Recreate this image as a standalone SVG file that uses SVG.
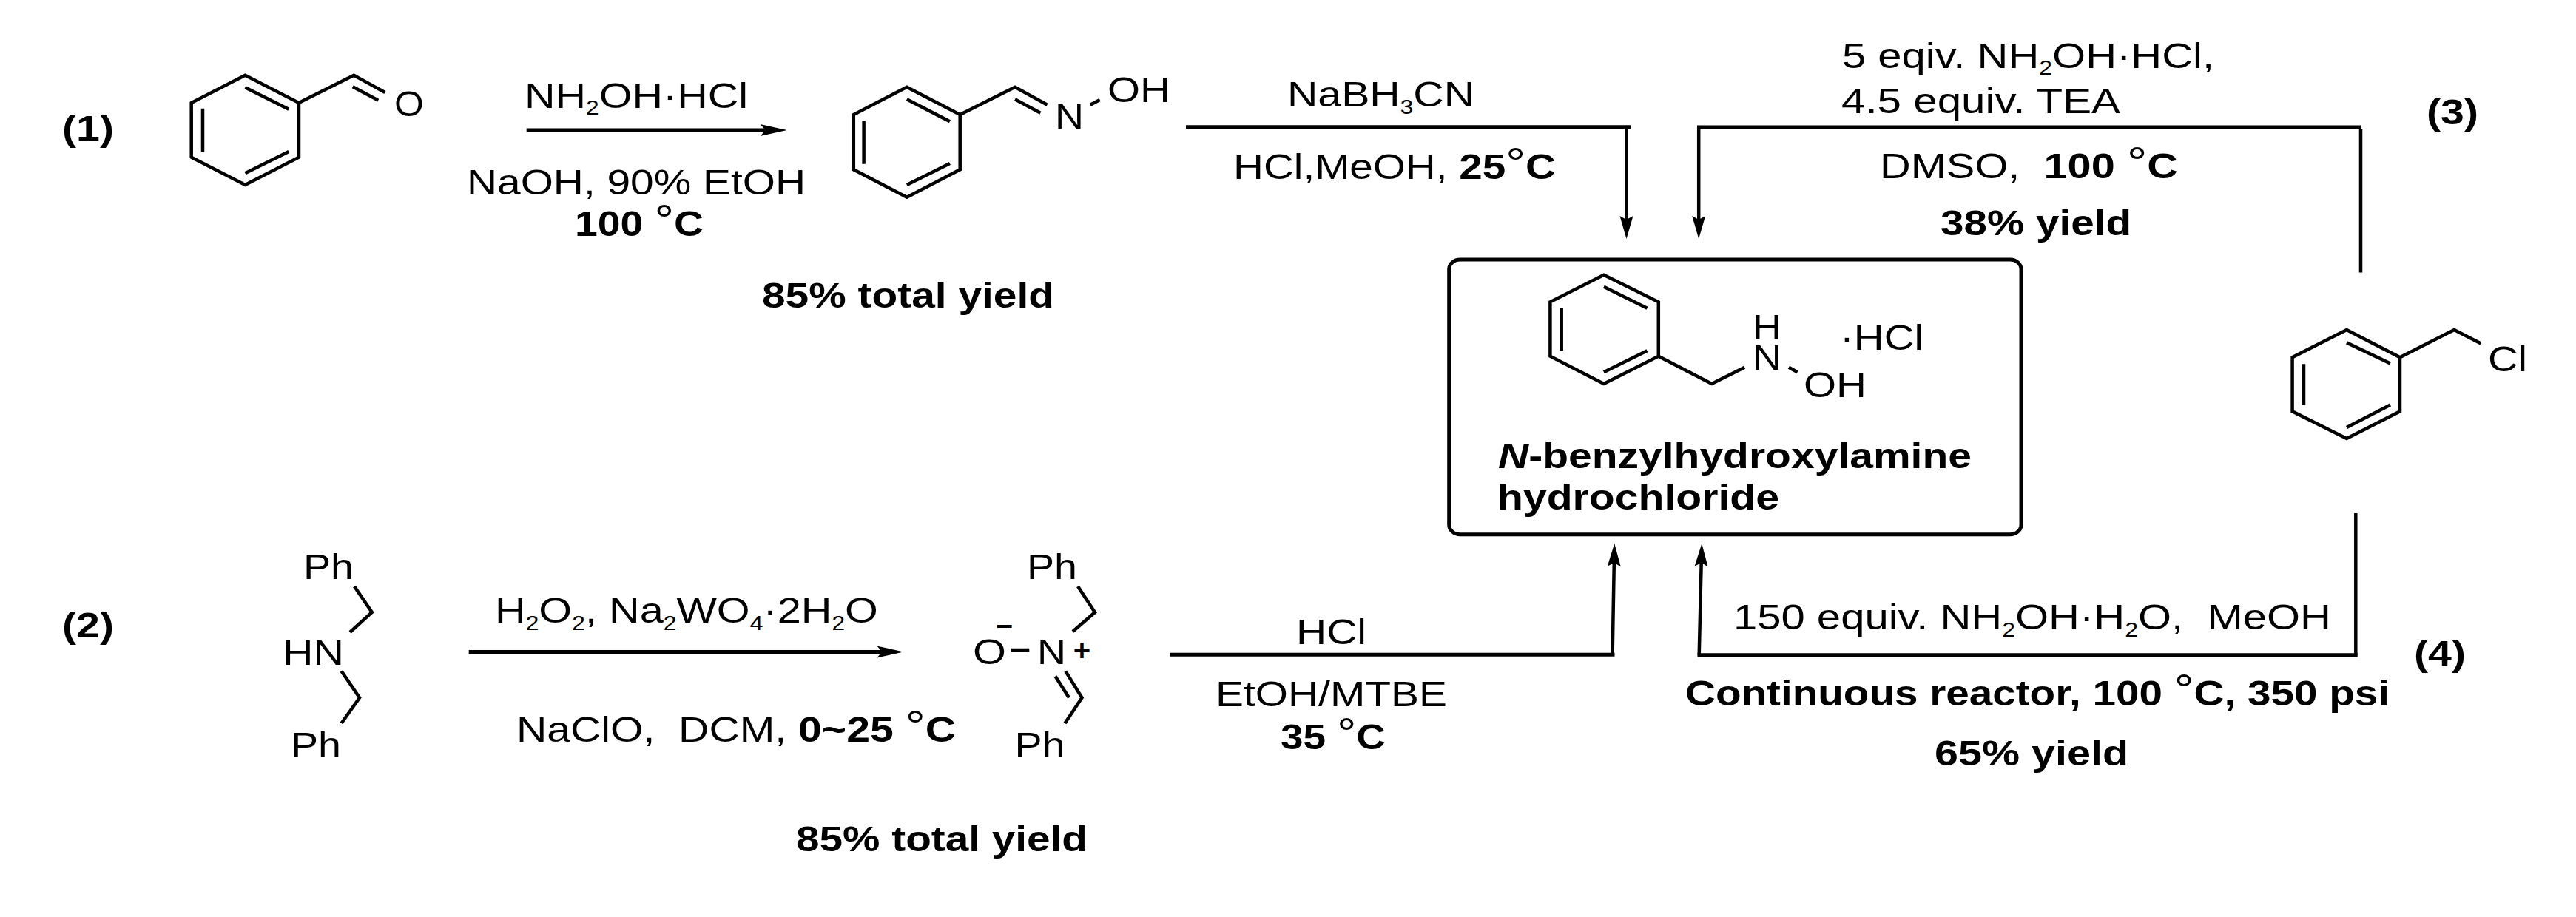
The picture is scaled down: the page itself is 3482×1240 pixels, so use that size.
<svg xmlns="http://www.w3.org/2000/svg" width="3482" height="1240" viewBox="0 0 3482 1240">
<style>
text{font-family:"Liberation Sans",Arial,sans-serif;font-size:49px;fill:#000;white-space:pre}
.b{font-weight:700}
.d{font-weight:400;font-size:58px}
.s{font-size:27px}
.i{font-style:italic}
.bond{fill:none;stroke:#000;stroke-width:4.5;stroke-linejoin:miter}
.thick{fill:none;stroke:#000;stroke-width:5}
.thin{fill:none;stroke:#000;stroke-width:4.5}
</style>
<defs>
<marker id="hA" markerUnits="userSpaceOnUse" markerWidth="40" markerHeight="20" refX="7" refY="10" orient="auto" overflow="visible"><path d="M0 2L36 10L0 18L7 10Z" fill="#000"/></marker>
<marker id="vA" markerUnits="userSpaceOnUse" markerWidth="34" markerHeight="20" refX="5" refY="10" orient="auto" overflow="visible"><path d="M0 1L31 10L0 19L5 10Z" fill="#000"/></marker>
</defs>
<rect width="3482" height="1240" fill="#fff"/>

<g id="connectors">
<line class="thick" x1="711.7" y1="176" x2="1034.7" y2="176" marker-end="url(#hA)"/>
<line class="thick" x1="633.7" y1="881.5" x2="1192.4" y2="881.5" marker-end="url(#hA)"/>
<line class="thick" x1="1603" y1="171.7" x2="2204" y2="171.7"/>
<line class="thin" x1="2198.5" y1="171.7" x2="2198.5" y2="297" marker-end="url(#vA)"/>
<line class="thick" x1="2294" y1="172" x2="3191" y2="172"/>
<line class="thin" x1="2296.2" y1="172" x2="2296.2" y2="297" marker-end="url(#vA)"/>
<line class="thin" x1="3191" y1="175" x2="3191" y2="368.5"/>
<line class="thick" x1="1581" y1="885.3" x2="2182.5" y2="885.3"/>
<line class="thin" x1="2179.6" y1="885.3" x2="2181.8" y2="761" marker-end="url(#vA)"/>
<line class="thick" x1="2294.5" y1="885.7" x2="3186.7" y2="885.7"/>
<line class="thin" x1="2296.7" y1="885.7" x2="2299.7" y2="761" marker-end="url(#vA)"/>
<line class="thin" x1="3184.3" y1="694" x2="3184.3" y2="885.7"/>
</g>

<g id="benzaldehyde">
<path class="bond" d="M331.4 101.7L404 139V212.7L331.4 250L258.7 212.7V139ZM331.4 118.3L390.3 147.7M274 146.7V205.7M331.4 234.3L390.3 205M404 139L478.3 101.7L520.4 125M476.8 117.3L511.2 135.7"/>
<text x="533" y="157" textLength="40" lengthAdjust="spacingAndGlyphs">O</text>
</g>

<g id="oxime">
<path class="bond" d="M1225.8 117.7L1297.7 155V229.3L1225.8 266.7L1153.8 229.3V155ZM1225.8 134.3L1283.9 164.3M1167.6 163.3V221.7M1225.8 250L1283.9 221M1297.7 155L1372 117.7L1415.6 141.7M1372 134.3L1406.4 152.7M1473.7 141.7L1486.7 135"/>
<text x="1426" y="174" textLength="39" lengthAdjust="spacingAndGlyphs">N</text>
<text x="1497" y="138.3" textLength="85" lengthAdjust="spacingAndGlyphs">OH</text>
</g>

<g id="product">
<rect x="1958.7" y="351" width="773.3" height="371.7" rx="15" ry="13" fill="none" stroke="#000" stroke-width="5"/>
<path class="bond" d="M2167.9 371.7L2241.8 408.3V481.7L2167.9 519L2095.4 481.7V408.3ZM2167.9 387.7L2226.5 416.7M2110.7 416V474.3M2167.9 503.3L2226.5 474.3M2241.8 481.7L2313.8 519L2358.2 496.7M2417.9 496.7L2429.6 503.3"/>
<text x="2369" y="459.3" textLength="39" lengthAdjust="spacingAndGlyphs">H</text>
<text x="2369" y="500" textLength="39" lengthAdjust="spacingAndGlyphs">N</text>
<text x="2438" y="536.7" textLength="85" lengthAdjust="spacingAndGlyphs">OH</text>
<text x="2487" y="472.7" textLength="113" lengthAdjust="spacingAndGlyphs">·HCl</text>
<text class="b" x="2025" y="632.7" textLength="640" lengthAdjust="spacingAndGlyphs"><tspan class="i">N</tspan>-benzylhydroxylamine</text>
<text class="b" x="2024" y="689.3" textLength="381" lengthAdjust="spacingAndGlyphs">hydrochloride</text>
</g>

<g id="benzyl-chloride">
<path class="bond" d="M3172 446L3244 483.2V556.3L3172 593L3098.6 556.3V483.2ZM3172 463.4L3231 491.5M3114 492.3V547.6M3172 578L3231 547.6M3244 483.2L3317.4 446L3353.4 464.6"/>
<text x="3363" y="502" textLength="53" lengthAdjust="spacingAndGlyphs">Cl</text>
</g>

<g id="dibenzylamine">
<path class="bond" d="M479 793L502.8 828L473 855M461.5 907.6L486 943.5L461.5 978"/>
<text x="410" y="783.3" textLength="68" lengthAdjust="spacingAndGlyphs">Ph</text>
<text x="382" y="898.7" textLength="83" lengthAdjust="spacingAndGlyphs">HN</text>
<text x="393" y="1024.4" textLength="68" lengthAdjust="spacingAndGlyphs">Ph</text>
</g>

<g id="nitrone">
<path class="bond" d="M1457 793L1480 828L1450 854M1366.8 879H1391.3M1440.3 907.6L1462.5 943.5L1439.5 978M1426.5 914.5L1445 943.5"/>
<text x="1388" y="783.3" textLength="68" lengthAdjust="spacingAndGlyphs">Ph</text>
<text x="1315" y="897.7" textLength="45" lengthAdjust="spacingAndGlyphs">O</text>
<text class="b" x="1357.5" y="858" text-anchor="middle" style="font-size:40px">–</text>
<text x="1402" y="897.7" textLength="39" lengthAdjust="spacingAndGlyphs">N</text>
<text class="b" x="1462.5" y="893" text-anchor="middle" style="font-size:40px">+</text>
<text x="1371.5" y="1024.4" textLength="68" lengthAdjust="spacingAndGlyphs">Ph</text>
</g>

<g id="labels">
<text class="b" x="84" y="190" textLength="70" lengthAdjust="spacingAndGlyphs">(1)</text>
<text class="b" x="84" y="861.8" textLength="70" lengthAdjust="spacingAndGlyphs">(2)</text>
<text class="b" x="3280" y="168" textLength="70" lengthAdjust="spacingAndGlyphs">(3)</text>
<text class="b" x="3263" y="900" textLength="70" lengthAdjust="spacingAndGlyphs">(4)</text>

<text x="709" y="145.7" textLength="302" lengthAdjust="spacingAndGlyphs">NH<tspan class="s" dy="9.5">2</tspan><tspan dy="-9.5">OH·HCl</tspan></text>
<text x="631" y="262.7" textLength="458" lengthAdjust="spacingAndGlyphs">NaOH, 90% EtOH</text>
<text class="b" x="777" y="319.3" textLength="174" lengthAdjust="spacingAndGlyphs">100 <tspan class="d" dy="-2">°</tspan><tspan dy="2">C</tspan></text>
<text class="b" x="1030" y="416" textLength="395" lengthAdjust="spacingAndGlyphs">85% total yield</text>

<text x="1740" y="144.3" textLength="253" lengthAdjust="spacingAndGlyphs">NaBH<tspan class="s" dy="9.5">3</tspan><tspan dy="-9.5">CN</tspan></text>
<text x="1667" y="241.7" textLength="436" lengthAdjust="spacingAndGlyphs">HCl,MeOH, <tspan class="b">25</tspan><tspan class="d" dy="-2">°</tspan><tspan class="b" dy="2">C</tspan></text>

<text x="2490" y="91.7" textLength="503" lengthAdjust="spacingAndGlyphs">5 eqiv. NH<tspan class="s" dy="9.5">2</tspan><tspan dy="-9.5">OH·HCl,</tspan></text>
<text x="2489" y="153.4" textLength="377" lengthAdjust="spacingAndGlyphs">4.5 equiv. TEA</text>
<text x="2541" y="241.2" textLength="403" lengthAdjust="spacingAndGlyphs">DMSO,  <tspan class="b">100 </tspan><tspan class="d" dy="-2">°</tspan><tspan class="b" dy="2">C</tspan></text>
<text class="b" x="2623" y="318.3" textLength="258" lengthAdjust="spacingAndGlyphs">38% yield</text>

<text x="669" y="842.2" textLength="518" lengthAdjust="spacingAndGlyphs">H<tspan class="s" dy="9.5">2</tspan><tspan dy="-9.5">O</tspan><tspan class="s" dy="9.5">2</tspan><tspan dy="-9.5">, Na</tspan><tspan class="s" dy="9.5">2</tspan><tspan dy="-9.5">WO</tspan><tspan class="s" dy="9.5">4</tspan><tspan dy="-9.5">·2H</tspan><tspan class="s" dy="9.5">2</tspan><tspan dy="-9.5">O</tspan></text>
<text x="698" y="1003" textLength="594" lengthAdjust="spacingAndGlyphs">NaClO,  DCM, <tspan class="b">0~25 </tspan><tspan class="d" dy="-2">°</tspan><tspan class="b" dy="2">C</tspan></text>
<text class="b" x="1076" y="1151" textLength="394" lengthAdjust="spacingAndGlyphs">85% total yield</text>

<text x="1752" y="870.5" textLength="95" lengthAdjust="spacingAndGlyphs">HCl</text>
<text x="1643" y="954.8" textLength="313" lengthAdjust="spacingAndGlyphs">EtOH/MTBE</text>
<text class="b" x="1731" y="1012.7" textLength="142" lengthAdjust="spacingAndGlyphs">35 <tspan class="d" dy="-2">°</tspan><tspan dy="2">C</tspan></text>

<text x="2343" y="851" textLength="808" lengthAdjust="spacingAndGlyphs">150 equiv. NH<tspan class="s" dy="9.5">2</tspan><tspan dy="-9.5">OH·H</tspan><tspan class="s" dy="9.5">2</tspan><tspan dy="-9.5">O,  MeOH</tspan></text>
<text class="b" x="2278" y="954.3" textLength="952" lengthAdjust="spacingAndGlyphs">Continuous reactor, 100 <tspan class="d" dy="-2">°</tspan><tspan dy="2">C, 350 psi</tspan></text>
<text class="b" x="2615" y="1035" textLength="262" lengthAdjust="spacingAndGlyphs">65% yield</text>
</g>
</svg>
